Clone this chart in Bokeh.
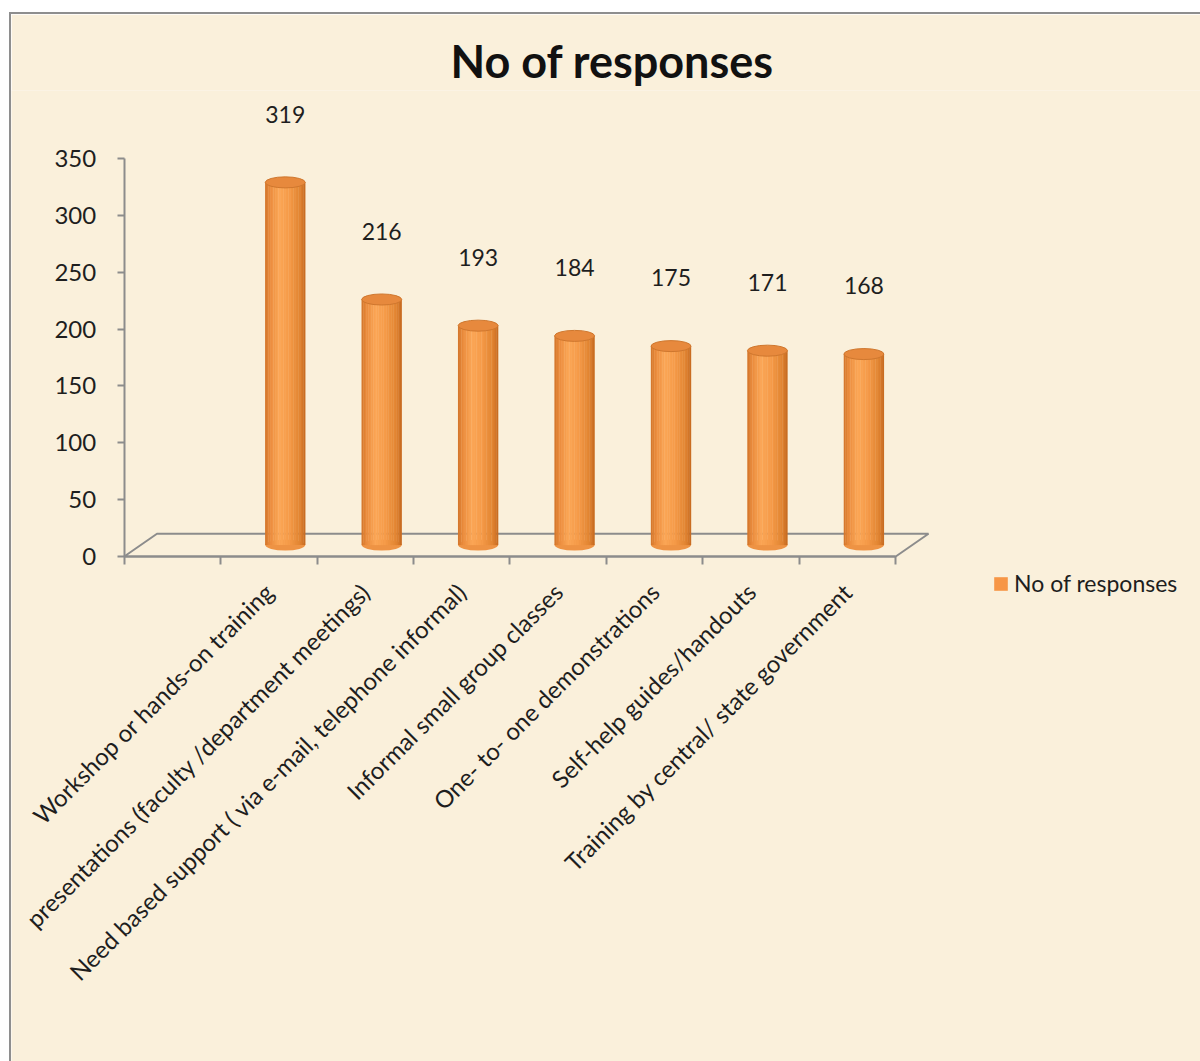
import math
from bokeh.plotting import figure
from bokeh.models import (ColumnDataSource, Range1d, LinearAxis, FixedTicker,
                          Legend, LegendItem)
from bokeh.embed import file_html
from bokeh.resources import INLINE
from bokeh.core.properties import value

# ---------------- data ----------------
categories = [
    "Workshop or hands-on training",
    "presentations (faculty /department meetings)",
    "Need based support ( via e-mail, telephone informal)",
    "Informal small group classes",
    "One- to- one demonstrations",
    "Self-help guides/handouts",
    "Training by central/ state government",
]
responses = [319, 216, 193, 184, 175, 171, 168]
y_ticks = [0, 50, 100, 150, 200, 250, 300, 350]
series_name = "No of responses"
title_text = "No of responses"

# ---------------- style ----------------
FONT = "Lato"
BG = "#FAF0DB"
AXIS_GREY = "#8C8C8C"
TEXT = "#1E1E1E"
LEGEND_ORANGE = "#F79646"

n = len(categories)
n_slots = n + 1          # one empty slot at the front of the 3-D floor
depth_dx = 0.34          # floor depth, in slot units
depth_dy = 20.0          # floor depth, in value units
bar_w = 0.415
ell_h = 9.7
label_gap = 70

centers = [i + 1.5 + depth_dx / 2 for i in range(n)]
base = depth_dy / 2
tops = [v + base for v in responses]

p = figure(width=1191, height=1049, margin=(12, 0, 0, 9),
           x_range=Range1d(-1.1686, 11.181), y_range=Range1d(-445.9, 409.8),
           x_axis_type=None, y_axis_type=None,
           output_backend="svg", toolbar_location=None,
           min_border_left=0, min_border_right=0,
           min_border_top=76, min_border_bottom=0)
p.background_fill_color = BG
p.border_fill_color = BG
p.outline_line_color = None
p.styles = {"border-left": "2px solid #8E8E8E", "border-top": "2px solid #8E8E8E"}

# title
p.title.text = title_text
p.title.text_font = FONT
p.title.text_font_style = "bold"
p.title.text_font_size = "45px"
p.title.text_color = "#111111"
p.title.align = "left"
p.title.offset = 439
p.title.standoff = 6

# y axis, drawn at x = 0
yax = LinearAxis(ticker=FixedTicker(ticks=y_ticks), bounds=(0, y_ticks[-1]))
yax.fixed_location = 0
yax.axis_line_color = AXIS_GREY
yax.axis_line_width = 2
yax.major_tick_line_color = AXIS_GREY
yax.major_tick_line_width = 2
yax.major_tick_out = 7
yax.major_tick_in = 0
yax.minor_tick_line_color = None
yax.major_label_text_font = FONT
yax.major_label_text_font_size = "24px"
yax.major_label_text_color = TEXT
yax.major_label_standoff = 21
p.add_layout(yax, "left")

# x axis (slot boundaries), drawn at value 0
xax = LinearAxis(ticker=FixedTicker(ticks=list(range(n_slots + 1))), bounds=(0, n_slots))
xax.fixed_location = 0
xax.axis_line_color = AXIS_GREY
xax.axis_line_width = 2
xax.major_tick_line_color = AXIS_GREY
xax.major_tick_line_width = 2
xax.major_tick_out = 8
xax.major_tick_in = 0
xax.minor_tick_line_color = None
xax.major_label_text_font_size = "1px"
xax.major_label_text_color = None
xax.major_label_standoff = 0
p.add_layout(xax, "below")

# category labels
label_pos = [i + 1.5 for i in range(n)]
cax = LinearAxis(ticker=FixedTicker(ticks=label_pos),
                 major_label_overrides={pos: c for pos, c in zip(label_pos, categories)})
cax.fixed_location = 0
cax.axis_line_color = None
cax.major_tick_line_color = None
cax.minor_tick_line_color = None
cax.major_label_orientation = math.pi / 4
cax.major_label_text_font = FONT
cax.major_label_text_font_size = "24px"
cax.major_label_text_color = TEXT
cax.major_label_standoff = 25
p.add_layout(cax, "below")

# 3-D floor
p.patch(x=[0, depth_dx, n_slots + depth_dx, n_slots],
        y=[0, depth_dy, depth_dy, 0],
        fill_color=None, line_color=AXIS_GREY, line_width=2)

# cylinders: bottom cap, shaded body, top cap
p.ellipse(x=centers, y=[base] * n, width=bar_w, height=ell_h,
          fill_color="#EE9344", line_color=None)

stops = [(0.0, (0xD2, 0x74, 0x2A)), (0.12, (0xEA, 0x8B, 0x3C)), (0.35, (0xFB, 0xA6, 0x56)),
         (0.6, (0xF5, 0x9A, 0x48)), (0.88, (0xE0, 0x83, 0x30)), (1.0, (0xC4, 0x68, 0x1F))]


def shade(t):
    for (t0, c0), (t1, c1) in zip(stops[:-1], stops[1:]):
        if t0 <= t <= t1:
            f = (t - t0) / (t1 - t0)
            return "#%02x%02x%02x" % tuple(int(round(a + (b - a) * f)) for a, b in zip(c0, c1))
    return "#%02x%02x%02x" % stops[-1][1]


K = 24
xs, ts, bs, cs = [], [], [], []
for j in range(K):
    t = (j + 0.5) / K
    for c, top in zip(centers, tops):
        xs.append(c + (t - 0.5) * bar_w)
        ts.append(top)
        bs.append(base)
        cs.append(shade(t))
stripes = ColumnDataSource(dict(x=xs, top=ts, bottom=bs, color=cs))
p.vbar(x="x", top="top", bottom="bottom", width=bar_w / K * 1.2,
       fill_color="color", line_color=None, source=stripes)

p.ellipse(x=centers, y=tops, width=bar_w, height=ell_h,
          fill_color="#E7893D", line_color="#CF772E", line_width=1)

# value labels
p.text(x=centers, y=[v + label_gap for v in responses], text=[str(v) for v in responses],
       text_align="center", text_baseline="middle",
       text_font=value(FONT), text_font_size="23px", text_color=TEXT)

# legend (swatch renderer: zero-height bar at the first cylinder's base)
leg_r = p.vbar(x=[centers[0]], top=[base], bottom=[base], width=bar_w,
               fill_color=LEGEND_ORANGE, line_color=None)
legend = Legend(items=[LegendItem(label=series_name, renderers=[leg_r])],
                location=(981, 466), border_line_color=None,
                background_fill_alpha=0, padding=0, margin=0, spacing=0,
                label_text_font=FONT, label_text_font_size="23px",
                label_text_color=TEXT, glyph_width=17, glyph_height=17,
                label_standoff=5)
p.add_layout(legend)

open("out.html", "w").write(file_html(p, INLINE))
